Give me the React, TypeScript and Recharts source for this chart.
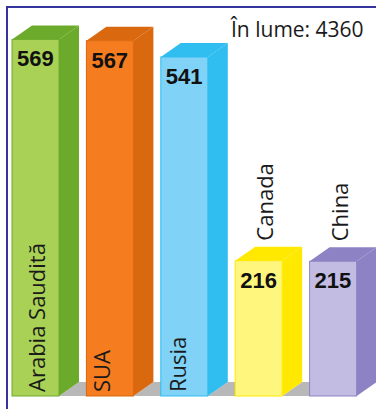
import React from 'react';
import { BarChart, Bar, XAxis, YAxis } from 'recharts';

const countries = ['Arabia Saudită', 'SUA', 'Rusia', 'Canada', 'China'];
const reserves = [569, 567, 541, 216, 215];
const worldTotalLabel = 'În lume: 4360';

const frontColors = ['#a9d156', '#f57c1f', '#80d2f6', '#fff67d', '#c2bce3'];
const sideColors = ['#6caa2c', '#d9680f', '#30bdf0', '#ffe900', '#8d83c4'];

const data = countries.map((name, i) => ({ name, value: reserves[i] }));

const DX = 20;
const DY = 14;
const GAP = 27.4;
const inBarOffsets = [33, 24, 25];

const Bar3D = (props: any) => {
  const { x, y, width, height, index, payload, value } = props;
  const fx = x - DX / 2;
  const w = width;
  const bottom = y + height;
  const front = frontColors[index];
  const side = sideColors[index];
  const isLast = index === countries.length - 1;
  const inside = index < 3;
  const labelX = inside ? fx + inBarOffsets[index] : fx + 38;
  const labelY = inside ? bottom - 4 : y - 20;
  return (
    <g>
      {!isLast && (
        <polygon
          points={`${fx + w},${bottom} ${fx + w + DX},${bottom - DY} ${fx + w + GAP + 2},${bottom - DY} ${fx + w + GAP + 2},${bottom}`}
          fill="#b8b8b8"
        />
      )}
      <polygon
        points={`${fx + w},${y} ${fx + w + DX},${y - DY} ${fx + w + DX},${bottom - DY} ${fx + w},${bottom}`}
        fill={side}
      />
      <polygon
        points={`${fx},${y} ${fx + DX},${y - DY} ${fx + w + DX},${y - DY} ${fx + w},${y}`}
        fill={side}
      />
      <rect x={fx} y={y} width={w} height={height} fill={front} stroke={side} strokeWidth={1} />
      <text
        x={fx + 5}
        y={y + 27}
        fontFamily="'Liberation Sans', Arial, sans-serif"
        fontWeight="bold"
        fontSize={22}
        fill="#111"
      >
        {value}
      </text>
      <text
        x={labelX}
        y={labelY}
        transform={`rotate(-90 ${labelX} ${labelY})`}
        fontFamily="'Open Sans', sans-serif"
        fontSize={22}
        fill="#1a1a1a"
        textAnchor="start"
      >
        {payload.name}
      </text>
    </g>
  );
};

export default function App() {
  return (
    <div style={{ position: 'fixed', left: 0, top: 0, width: 376, height: 409, overflow: 'hidden', background: '#fff' }}>
      <div
        style={{
          position: 'absolute',
          left: 6,
          top: 6,
          width: 400,
          height: 420,
          borderTop: '2px solid #34349c',
          borderLeft: '2px solid #34349c',
          boxSizing: 'border-box',
        }}
      />
      <div style={{ position: 'absolute', left: 0, top: 0 }}>
        <BarChart
          width={380}
          height={409}
          data={data}
          margin={{ top: 20, right: 0, bottom: 13, left: 8 }}
          barSize={47}
        >
          <XAxis dataKey="name" hide />
          <YAxis domain={[0, 600]} hide />
          <Bar dataKey="value" shape={<Bar3D />} isAnimationActive={false} />
        </BarChart>
      </div>
      <div
        style={{
          position: 'absolute',
          left: 231,
          top: 15,
          fontFamily: "'Open Sans', sans-serif",
          fontSize: 21,
          lineHeight: '29px',
          color: '#1a1a1a',
          whiteSpace: 'nowrap',
        }}
      >
        {worldTotalLabel}
      </div>
    </div>
  );
}
